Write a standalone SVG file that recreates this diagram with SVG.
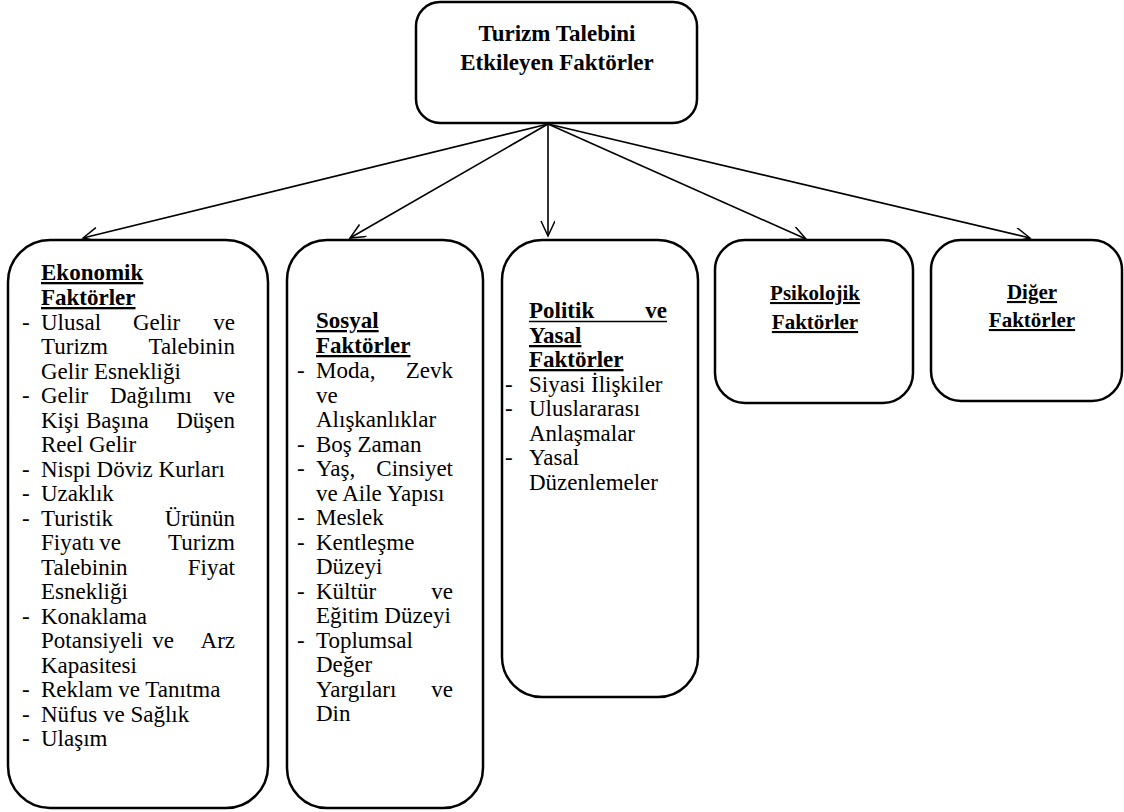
<svg xmlns="http://www.w3.org/2000/svg" width="1124" height="812" viewBox="0 0 1124 812">
<defs>
<marker id="arr" markerUnits="userSpaceOnUse" markerWidth="20" markerHeight="20" refX="16" refY="7" orient="auto">
<path d="M1,0 L16,7 L1,14" fill="none" stroke="#000" stroke-width="1.5"/>
</marker>
<style>
.box{fill:#fff;stroke:#000;stroke-width:2.5}
.c{stroke:#000;stroke-width:1.6;fill:none;marker-end:url(#arr)}
.b{font-weight:bold}
.u{text-decoration:underline}
.e{text-anchor:end}
.m{text-anchor:middle}
</style>
</defs>
<rect width="1124" height="812" fill="#fff"/>
<g id="connectors">
<line class="c" x1="548" y1="124" x2="83" y2="238"/>
<line class="c" x1="548" y1="124" x2="350" y2="238"/>
<line class="c" x1="548" y1="124" x2="548" y2="236"/>
<line class="c" x1="548" y1="124" x2="806" y2="239"/>
<line class="c" x1="548" y1="124" x2="1030" y2="238"/>
</g>
<g id="root">
<rect class="box" x="416" y="2" width="281" height="121" rx="24"/>
<text font-family="Liberation Serif" font-size="23" class="b m" x="557" y="41">Turizm Talebini</text>
<text font-family="Liberation Serif" font-size="23" class="b m" x="557" y="70">Etkileyen Faktörler</text>
</g>
<g id="ekonomik">
<rect class="box" x="8" y="240" width="260" height="568" rx="42"/>
<text font-family="Liberation Serif" font-size="23" class="b u" x="41" y="280">Ekonomik</text>
<text font-family="Liberation Serif" font-size="23" class="b u" x="41" y="305">Faktörler</text>
<text font-family="Liberation Serif" font-size="23" x="22" y="330">-</text><text font-family="Liberation Serif" font-size="23" x="41" y="330">Ulusal</text><text font-family="Liberation Serif" font-size="23" x="133" y="330">Gelir</text><text font-family="Liberation Serif" font-size="23" class="e" x="235" y="330">ve</text>
<text font-family="Liberation Serif" font-size="23" x="41" y="354">Turizm</text><text font-family="Liberation Serif" font-size="23" class="e" x="235" y="354">Talebinin</text>
<text font-family="Liberation Serif" font-size="23" x="41" y="379">Gelir Esnekliği</text>
<text font-family="Liberation Serif" font-size="23" x="22" y="403">-</text><text font-family="Liberation Serif" font-size="23" x="41" y="403">Gelir</text><text font-family="Liberation Serif" font-size="23" x="110" y="403">Dağılımı</text><text font-family="Liberation Serif" font-size="23" class="e" x="235" y="403">ve</text>
<text font-family="Liberation Serif" font-size="23" x="41" y="428">Kişi</text><text font-family="Liberation Serif" font-size="23" x="86" y="428">Başına</text><text font-family="Liberation Serif" font-size="23" class="e" x="235" y="428">Düşen</text>
<text font-family="Liberation Serif" font-size="23" x="41" y="452">Reel Gelir</text>
<text font-family="Liberation Serif" font-size="23" x="22" y="477">-</text><text font-family="Liberation Serif" font-size="23" x="41" y="477">Nispi Döviz Kurları</text>
<text font-family="Liberation Serif" font-size="23" x="22" y="501">-</text><text font-family="Liberation Serif" font-size="23" x="41" y="501">Uzaklık</text>
<text font-family="Liberation Serif" font-size="23" x="22" y="526">-</text><text font-family="Liberation Serif" font-size="23" x="41" y="526">Turistik</text><text font-family="Liberation Serif" font-size="23" class="e" x="235" y="526">Ürünün</text>
<text font-family="Liberation Serif" font-size="23" x="41" y="550">Fiyatı</text><text font-family="Liberation Serif" font-size="23" class="m" x="110" y="550">ve</text><text font-family="Liberation Serif" font-size="23" class="e" x="235" y="550">Turizm</text>
<text font-family="Liberation Serif" font-size="23" x="41" y="575">Talebinin</text><text font-family="Liberation Serif" font-size="23" class="e" x="235" y="575">Fiyat</text>
<text font-family="Liberation Serif" font-size="23" x="41" y="599">Esnekliği</text>
<text font-family="Liberation Serif" font-size="23" x="22" y="624">-</text><text font-family="Liberation Serif" font-size="23" x="41" y="624">Konaklama</text>
<text font-family="Liberation Serif" font-size="23" x="41" y="648">Potansiyeli</text><text font-family="Liberation Serif" font-size="23" class="m" x="163" y="648">ve</text><text font-family="Liberation Serif" font-size="23" class="e" x="235" y="648">Arz</text>
<text font-family="Liberation Serif" font-size="23" x="41" y="673">Kapasitesi</text>
<text font-family="Liberation Serif" font-size="23" x="22" y="697">-</text><text font-family="Liberation Serif" font-size="23" x="41" y="697">Reklam ve Tanıtma</text>
<text font-family="Liberation Serif" font-size="23" x="22" y="722">-</text><text font-family="Liberation Serif" font-size="23" x="41" y="722">Nüfus ve Sağlık</text>
<text font-family="Liberation Serif" font-size="23" x="22" y="746">-</text><text font-family="Liberation Serif" font-size="23" x="41" y="746">Ulaşım</text>
</g>
<g id="sosyal">
<rect class="box" x="287" y="240" width="196" height="568" rx="40"/>
<text font-family="Liberation Serif" font-size="23" class="b u" x="316" y="328">Sosyal</text>
<text font-family="Liberation Serif" font-size="23" class="b u" x="316" y="353">Faktörler</text>
<text font-family="Liberation Serif" font-size="23" x="297" y="378">-</text><text font-family="Liberation Serif" font-size="23" x="316" y="378">Moda,</text><text font-family="Liberation Serif" font-size="23" class="e" x="453" y="378">Zevk</text>
<text font-family="Liberation Serif" font-size="23" x="316" y="403">ve</text>
<text font-family="Liberation Serif" font-size="23" x="316" y="427">Alışkanlıklar</text>
<text font-family="Liberation Serif" font-size="23" x="297" y="452">-</text><text font-family="Liberation Serif" font-size="23" x="316" y="452">Boş Zaman</text>
<text font-family="Liberation Serif" font-size="23" x="297" y="476">-</text><text font-family="Liberation Serif" font-size="23" x="316" y="476">Yaş,</text><text font-family="Liberation Serif" font-size="23" class="e" x="453" y="476">Cinsiyet</text>
<text font-family="Liberation Serif" font-size="23" x="316" y="501">ve Aile Yapısı</text>
<text font-family="Liberation Serif" font-size="23" x="297" y="525">-</text><text font-family="Liberation Serif" font-size="23" x="316" y="525">Meslek</text>
<text font-family="Liberation Serif" font-size="23" x="297" y="550">-</text><text font-family="Liberation Serif" font-size="23" x="316" y="550">Kentleşme</text>
<text font-family="Liberation Serif" font-size="23" x="316" y="574">Düzeyi</text>
<text font-family="Liberation Serif" font-size="23" x="297" y="599">-</text><text font-family="Liberation Serif" font-size="23" x="316" y="599">Kültür</text><text font-family="Liberation Serif" font-size="23" class="e" x="453" y="599">ve</text>
<text font-family="Liberation Serif" font-size="23" x="316" y="623">Eğitim Düzeyi</text>
<text font-family="Liberation Serif" font-size="23" x="297" y="648">-</text><text font-family="Liberation Serif" font-size="23" x="316" y="648">Toplumsal</text>
<text font-family="Liberation Serif" font-size="23" x="316" y="672">Değer</text>
<text font-family="Liberation Serif" font-size="23" x="316" y="697">Yargıları</text><text font-family="Liberation Serif" font-size="23" class="e" x="453" y="697">ve</text>
<text font-family="Liberation Serif" font-size="23" x="316" y="721">Din</text>
</g>
<g id="politik">
<rect class="box" x="502" y="240" width="196" height="457" rx="40"/>
<text font-family="Liberation Serif" font-size="23" class="b" x="529" y="318">Politik</text><text font-family="Liberation Serif" font-size="23" class="b e" x="667" y="318">ve</text>
<line x1="529" y1="321.5" x2="667" y2="321.5" stroke="#000" stroke-width="1.6"/>
<text font-family="Liberation Serif" font-size="23" class="b u" x="529" y="343">Yasal</text>
<text font-family="Liberation Serif" font-size="23" class="b u" x="529" y="367">Faktörler</text>
<text font-family="Liberation Serif" font-size="23" x="505" y="392">-</text><text font-family="Liberation Serif" font-size="23" x="529" y="392">Siyasi İlişkiler</text>
<text font-family="Liberation Serif" font-size="23" x="505" y="416">-</text><text font-family="Liberation Serif" font-size="23" x="529" y="416">Uluslararası</text>
<text font-family="Liberation Serif" font-size="23" x="529" y="441">Anlaşmalar</text>
<text font-family="Liberation Serif" font-size="23" x="505" y="465">-</text><text font-family="Liberation Serif" font-size="23" x="529" y="465">Yasal</text>
<text font-family="Liberation Serif" font-size="23" x="529" y="490">Düzenlemeler</text>
</g>
<g id="psikolojik">
<rect class="box" x="715" y="240" width="198" height="163" rx="30"/>
<text font-family="Liberation Serif" font-size="21" class="b u m" x="815" y="300">Psikolojik</text>
<text font-family="Liberation Serif" font-size="21" class="b u m" x="815" y="329">Faktörler</text>
</g>
<g id="diger">
<rect class="box" x="931" y="240" width="191" height="161" rx="30"/>
<text font-family="Liberation Serif" font-size="21" class="b u m" x="1032" y="299">Diğer</text>
<text font-family="Liberation Serif" font-size="21" class="b u m" x="1032" y="327">Faktörler</text>
</g>
</svg>
